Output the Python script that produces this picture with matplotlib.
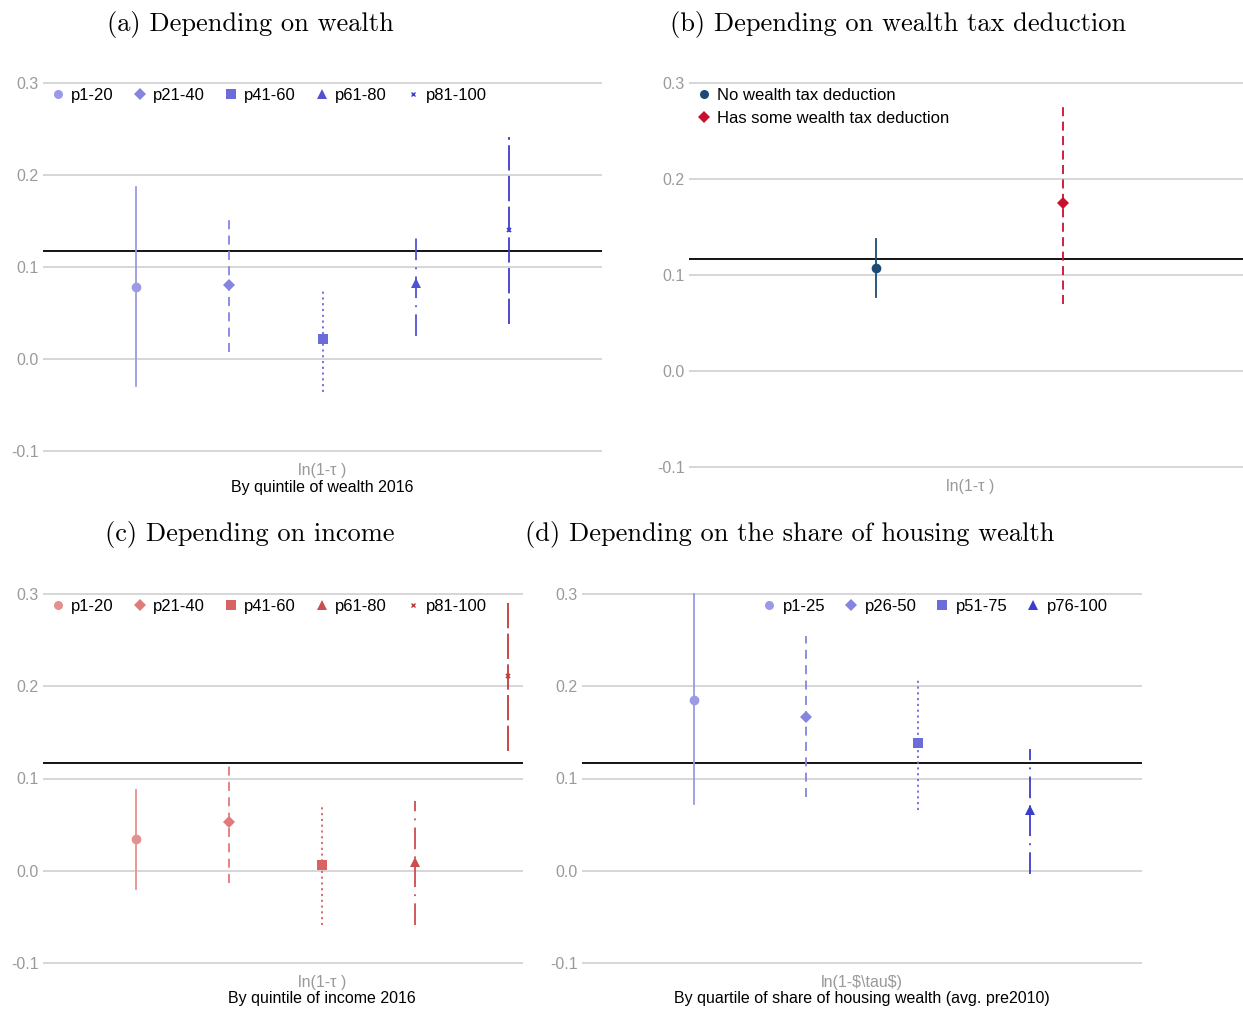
import matplotlib
matplotlib.use("Agg")
import matplotlib.pyplot as plt
from matplotlib.lines import Line2D

W, H = 1243, 1009
plt.rcParams['font.family'] = ['Liberation Sans', 'DejaVu Sans']

# reference line (same in all panels)
ref_line = 0.117

# (a) by quintile of wealth 2016
a_labels = ["p1-20", "p21-40", "p41-60", "p61-80", "p81-100"]
a_est = [0.078, 0.080, 0.022, 0.083, 0.140]
a_lo = [-0.029, 0.008, -0.036, 0.025, 0.038]
a_hi = [0.187, 0.153, 0.075, 0.137, 0.241]

# (b) by wealth tax deduction
b_labels = ["No wealth tax deduction", "Has some wealth tax deduction"]
b_est = [0.107, 0.175]
b_lo = [0.077, 0.070]
b_hi = [0.138, 0.280]

# (c) by quintile of income 2016
c_labels = ["p1-20", "p21-40", "p41-60", "p61-80", "p81-100"]
c_est = [0.034, 0.053, 0.006, 0.010, 0.211]
c_lo = [-0.020, -0.013, -0.059, -0.059, 0.130]
c_hi = [0.088, 0.118, 0.071, 0.076, 0.294]

# (d) by quartile of share of housing wealth
d_labels = ["p1-25", "p26-50", "p51-75", "p76-100"]
d_est = [0.185, 0.167, 0.138, 0.066]
d_lo = [0.072, 0.080, 0.066, -0.003]
d_hi = [0.300, 0.255, 0.208, 0.132]

blues = ["#9a9ae6", "#8585e0", "#6b6bd9", "#5252d1", "#3d3dcc"]
reds = ["#e59090", "#de7b7b", "#d96262", "#cc4d4d", "#c23b3b"]
markers = ["o", "D", "s", "^", "x"]
msizes = [7, 6, 7.5, 7.5, 3]
styles = ["-", (0, (5, 3.5)), (0, (1.2, 2)), (0, (12, 4, 1, 4)), (0, (14, 3))]

fig = plt.figure(figsize=(W / 100, H / 100), dpi=100)


def add_ax(x0, x1, y0, y1):
    # pixel box -> figure fraction
    return fig.add_axes([x0 / W, 1 - y1 / H, (x1 - x0) / W, (y1 - y0) / H])


def style_ax(ax, xlim):
    ax.set_xlim(*xlim)
    ax.set_ylim(-0.105, 0.305)
    ax.set_yticks([-0.1, 0.0, 0.1, 0.2, 0.3])
    ax.set_yticklabels(["-0.1", "0.0", "0.1", "0.2", "0.3"])
    ax.set_xticks([])
    for s in ax.spines.values():
        s.set_visible(False)
    ax.tick_params(axis='y', length=0, labelsize=11.5, labelcolor="#9a9a9a", pad=3)
    ax.grid(axis='y', color="#d0d0d0", lw=1.2)
    ax.set_axisbelow(True)
    ax.axhline(ref_line, color="black", lw=1.3, zorder=2)


def draw_series(ax, est, lo, hi, colors, n):
    for i in range(n):
        x = i + 1
        ax.plot([x, x], [lo[i], hi[i]], color=colors[i], lw=1.3, ls=styles[i], zorder=3)
        mew = 1.2 if markers[i] == "x" else 0
        ax.plot([x], [est[i]], marker=markers[i], ms=msizes[i], color=colors[i],
                mew=mew, ls="none", zorder=4)


def legend(ax, labels, colors, mks, ncol, anchor, colsp=1.05, lsp=0.5):
    handles = []
    for i, lab in enumerate(labels):
        mk = mks[i]
        handles.append(Line2D([], [], ls="none", marker=mk, color=colors[i],
                              ms=6.5 if mk != "x" else 3, mew=1 if mk == "x" else 0))
    ax.legend(handles, labels, ncol=ncol, loc="upper left", bbox_to_anchor=anchor,
              frameon=False, fontsize=12, handletextpad=0.3, columnspacing=colsp,
              handlelength=1.0, labelspacing=lsp, borderaxespad=0)


# (a)
ax = add_ax(43, 602, 78.4, 455.6)
style_ax(ax, (0, 6))
draw_series(ax, a_est, a_lo, a_hi, blues, 5)
legend(ax, a_labels, blues, markers, 5, (0.0, 0.993))

# (b)
bcol = ["#1a4a75", "#c8102e"]
ax = add_ax(689, 1243, 78.2, 471.8)
style_ax(ax, (0, 2.96))
for i in range(2):
    ax.plot([i + 1, i + 1], [b_lo[i], b_hi[i]], color=bcol[i], lw=1.3,
            ls=["-", (0, (5, 3))][i], zorder=3)
    ax.plot([i + 1], [b_est[i]], marker=["o", "D"][i], ms=[7, 6.5][i], color=bcol[i],
            mew=0, ls="none", zorder=4)
legend(ax, b_labels, bcol, ["o", "D"], 1, (0.0, 0.993), lsp=0.5)

# (c)
ax = add_ax(43, 523, 589.4, 967.6)
style_ax(ax, (0, 5.16))
draw_series(ax, c_est, c_lo, c_hi, reds, 5)
legend(ax, c_labels, reds, markers, 5, (0.0, 0.993))

# (d)
dcol = [blues[0], blues[1], blues[2], blues[4]]
ax = add_ax(582, 1142, 589.4, 967.6)
style_ax(ax, (0, 5))
draw_series(ax, d_est, d_lo, d_hi, dcol, 4)
legend(ax, d_labels, dcol, markers, 4, (0.308, 0.993))

# titles (serif, LaTeX style)
tfont = dict(fontfamily="cmr10", fontsize=19, ha="center", va="center")
fig.text(250 / W, 1 - 24 / H, "(a) Depending on wealth", **tfont)
fig.text(898 / W, 1 - 24 / H, "(b) Depending on wealth tax deduction", **tfont)
fig.text(250 / W, 1 - 535 / H, "(c) Depending on income", **tfont)
fig.text(790 / W, 1 - 535 / H, "(d) Depending on the share of housing wealth", **tfont)

# axis labels
g = "#9a9a9a"
fs = 11.5
fig.text(322 / W, 1 - 470 / H, "ln(1-\u03c4 )", color=g, fontsize=fs, ha="center", va="center")
fig.text(322 / W, 1 - 488 / H, "By quintile of wealth 2016", fontsize=fs, ha="center", va="center")
fig.text(970 / W, 1 - 487 / H, "ln(1-\u03c4 )", color=g, fontsize=fs, ha="center", va="center")
fig.text(322 / W, 1 - 982 / H, "ln(1-\u03c4 )", color=g, fontsize=fs, ha="center", va="center")
fig.text(322 / W, 1 - 999 / H, "By quintile of income 2016", fontsize=fs, ha="center", va="center")
fig.text(862 / W, 1 - 982 / H, r"ln(1-\$\tau\$)", color=g, fontsize=fs, ha="center", va="center")
fig.text(862 / W, 1 - 999 / H, "By quartile of share of housing wealth (avg. pre2010)",
         fontsize=fs, ha="center", va="center")

fig.savefig("out.png", dpi=100)
